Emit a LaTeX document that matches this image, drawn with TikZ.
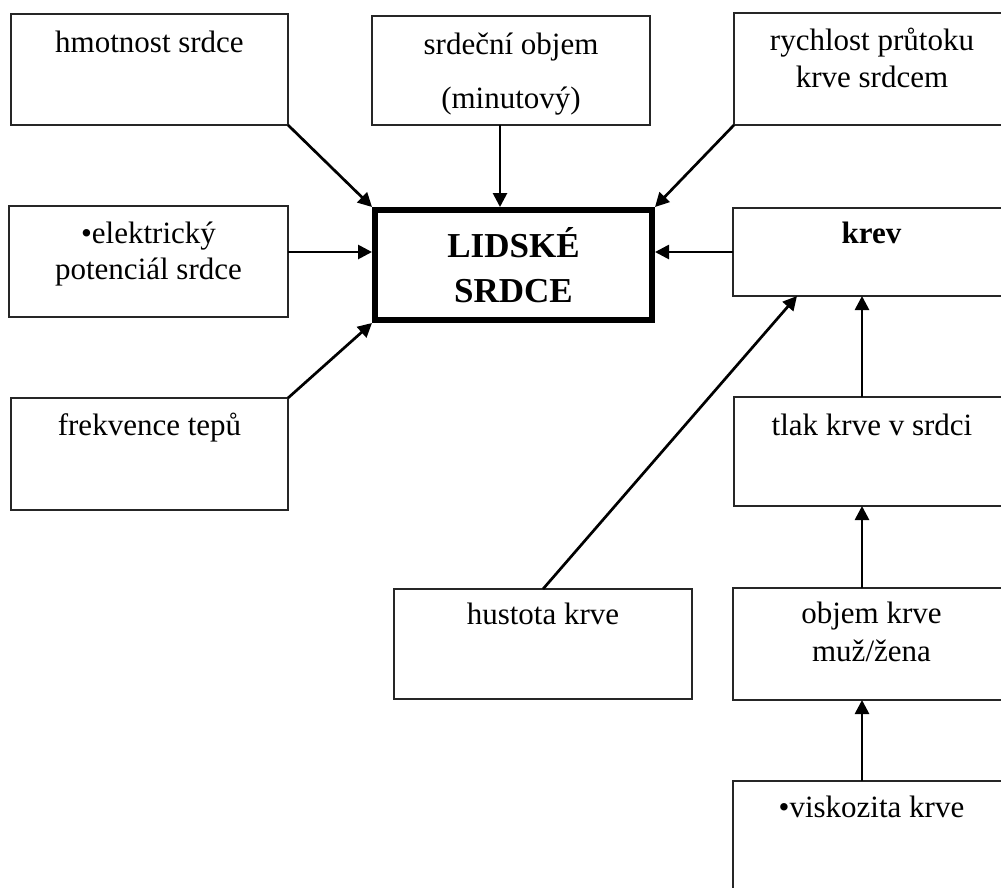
\documentclass[tikz,border=0pt]{standalone}
\usepackage{fontspec}
\setmainfont{Liberation Serif}
\usetikzlibrary{arrows.meta}

% box text: height, width, first baseline, line skip, text
\newcommand\boxlines[5]{%
  \parbox[t][#1][t]{#2}{\centering\fontsize{31}{#4}\selectfont\rule{0pt}{#3}#5}}

\begin{document}
\begin{tikzpicture}[x=1pt,y=-1pt,
  box/.style={draw=black!85,line width=1.6pt,inner sep=0pt,outer sep=0pt,anchor=north west},
  heartbox/.style={draw=black,line width=6pt,inner sep=0pt,anchor=north west},
  conn/.style={line width=2.7pt,-{Triangle[length=14pt,width=14pt]}}]
\useasboundingbox (0,0) rectangle (1001,887);
\clip (0,0) rectangle (1001,887);

% central node
\node[heartbox] (heart) at (372,207)
  {\parbox[t][110pt][t]{277pt}{\centering\fontsize{35}{45}\bfseries\selectfont\rule{0pt}{47pt}LIDSKÉ\\SRDCE}};

% left and top factors
\node[box] (hm) at (11,14)   {\boxlines{111pt}{277pt}{38pt}{37pt}{hmotnost srdce}};
\node[box] (so) at (372,16)  {\boxlines{109pt}{278pt}{38pt}{54pt}{srdeční objem\\(minutový)}};
\node[box] (ry) at (734,13)  {\boxlines{112pt}{276pt}{37pt}{37pt}{rychlost průtoku\\krve srdcem}};
\node[box] (el) at (9,206)   {\boxlines{111pt}{279pt}{37pt}{36pt}{•elektrický\\potenciál srdce}};
\node[box] (fr) at (11,398)  {\boxlines{112pt}{277pt}{37pt}{37pt}{frekvence tepů}};

% blood branch
\node[box] (krev) at (733,208) {\boxlines{88pt}{277pt}{35pt}{37pt}{\textbf{krev}}};
\node[box] (tl) at (734,397)   {\boxlines{109pt}{276pt}{38pt}{37pt}{tlak krve v srdci}};
\node[box] (hu) at (394,589)   {\boxlines{110pt}{298pt}{35pt}{37pt}{hustota krve}};
\node[box] (ob) at (733,588)   {\boxlines{112pt}{277pt}{35pt}{38pt}{objem krve\\muž/žena}};
\node[box] (vi) at (733,781)   {\boxlines{130pt}{277pt}{36pt}{37pt}{•viskozita krve}};

% connector columns
\coordinate (sx) at (500,0);
\coordinate (col) at (862,0);
\coordinate (kx) at (797,0);

\draw[conn] (hm.south east) -- (heart.north west);
\draw[conn] (so.south -| sx) -- (heart.north -| sx);
\draw[conn] (ry.south west) -- (heart.north east);
\draw[conn] (el.east |- krev.west) -- (heart.west |- krev.west);
\draw[conn] (fr.north east) -- (heart.south west);
\draw[conn] (krev.west) -- (heart.east |- krev.west);
\draw[conn] (tl.north -| col) -- (krev.south -| col);
\draw[conn] (hu.north) -- (krev.south -| kx);
\draw[conn] (ob.north -| col) -- (tl.south -| col);
\draw[conn] (vi.north -| col) -- (ob.south -| col);
\end{tikzpicture}
\end{document}
